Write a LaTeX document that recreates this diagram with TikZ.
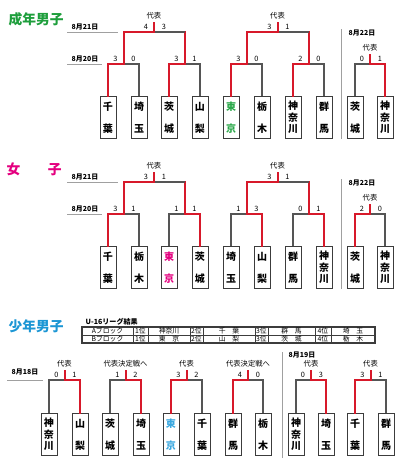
\documentclass[tikz,border=0pt]{standalone}
\usepackage{fontspec}
\setmainfont{Noto Sans CJK JP}
\usetikzlibrary{calc}
\definecolor{brred}{HTML}{D7192A}
\definecolor{brgray}{HTML}{555555}
\definecolor{brlight}{HTML}{A0A0A0}
\definecolor{brbox}{HTML}{3C3C3C}
\definecolor{ttgreen}{HTML}{1E9E3C}
\definecolor{ttpink}{HTML}{E4007F}
\definecolor{ttblue}{HTML}{1C96D4}
\definecolor{tkgreen}{HTML}{2BA84A}
\definecolor{tkblue}{HTML}{3AA8E0}
\tikzset{
  tbox/.style={draw=brbox,line width=0.75pt,fill=white,anchor=north,minimum width=12pt,
    minimum height=31.5pt,inner sep=0pt,align=center,font=\fontsize{7.5}{8.6}\selectfont\bfseries},
  gline/.style={brgray,line width=0.8pt},
  rline/.style={brred,line width=1.5pt,line cap=rect},
  dline/.style={brlight,line width=0.6pt},
  tline/.style={brbox,line width=0.5pt},
  small/.style={font=\fontsize{5.5}{6.5}\selectfont},
  dlab/.style={anchor=west,font=\fontsize{5.2}{6}\selectfont\bfseries},
  ttl/.style={anchor=west,font=\fontsize{10.3}{12}\selectfont\bfseries},
}
\newcommand{\twoch}[2]{#1\\[7.9pt]#2}
\newcommand{\bout}[5]{% winner, loser, junction, bar y, top y
  \path ($(#1)!0.5!(#2)$) coordinate (#3m);
  \coordinate (#3) at (#3m |- 0,#4);
  \coordinate (#3t) at (#3m |- 0,#5);
  \draw[gline] (#2) |- (#3);
  \draw[rline] (#1) |- (#3) -- (#3t);
}
\newcommand{\bscore}[3]{%
  \node[small] (#1l) at ($(#1)+(-8,-5)$) {#2};
  \node[small] (#1r) at ($(#1)+(10,-5)$) {#3};
}
\begin{document}
\begin{tikzpicture}[x=0.75pt,y=-0.75pt]
  \useasboundingbox (0,0) rectangle (400,458);
  % ---------- 成年男子 ----------
  \node[ttl,text=ttgreen] (ma) at (4,19) {成年男子};
  \node[dlab] (mad1) at (67,27) {8月21日};
  \node[dlab] (mad2) at (67,59) {8月20日};
  \node[dlab] (mad3) at (344,33) {8月22日};
  \draw[dline] (67,32) -- (118,32);
  \draw[dline] (67,64) -- (102,64);
  \draw[dline] (341,29) -- (341,139);
  \foreach \i/\xx/\nm/\cl in {1/108/\twoch{千}{葉}/black, 2/139/\twoch{埼}{玉}/black,
      3/169/\twoch{茨}{城}/black, 4/200/\twoch{山}{梨}/black, 5/231/\twoch{東}{京}/tkgreen,
      6/262/\twoch{栃}{木}/black, 7/293/神\\奈\\川/black, 8/324/\twoch{群}{馬}/black,
      9/355/\twoch{茨}{城}/black, 10/385/神\\奈\\川/black}{
    \node[tbox,text=\cl] (ma\i) at (\xx,96) {\nm};}
  \bout{ma1.north}{ma2.north}{maj1}{64}{32}\bscore{maj1}{3}{0}
  \bout{ma3.north}{ma4.north}{maj2}{64}{32}\bscore{maj2}{3}{1}
  \bout{ma5.north}{ma6.north}{maj3}{64}{32}\bscore{maj3}{3}{0}
  \bout{ma7.north}{ma8.north}{maj4}{64}{32}\bscore{maj4}{2}{0}
  \bout{maj1t}{maj2t}{maj5}{32}{23}\bscore{maj5}{4}{3}
  \bout{maj3t}{maj4t}{maj6}{32}{23}\bscore{maj6}{3}{1}
  \bout{ma10.north}{ma9.north}{maj7}{64}{55}\bscore{maj7}{0}{1}
  \node[small] (mal1) at ($(maj5t)+(0,-7)$) {代表};
  \node[small] (mal2) at ($(maj6t)+(0,-7)$) {代表};
  \node[small] (mal3) at ($(maj7t)+(0,-7)$) {代表};
  % ---------- 女子 ----------
  \node[ttl,text=ttpink] (wo) at (2,169) {女　　子};
  \node[dlab] (wod1) at (67,177) {8月21日};
  \node[dlab] (wod2) at (67,209) {8月20日};
  \node[dlab] (wod3) at (344,183) {8月22日};
  \draw[dline] (67,182) -- (118,182);
  \draw[dline] (67,214) -- (102,214);
  \draw[dline] (341,179) -- (341,289);
  \foreach \i/\xx/\nm/\cl in {1/108/\twoch{千}{葉}/black, 2/139/\twoch{栃}{木}/black,
      3/169/\twoch{東}{京}/ttpink, 4/200/\twoch{茨}{城}/black, 5/231/\twoch{埼}{玉}/black,
      6/262/\twoch{山}{梨}/black, 7/293/\twoch{群}{馬}/black, 8/324/神\\奈\\川/black,
      9/355/\twoch{茨}{城}/black, 10/385/神\\奈\\川/black}{
    \node[tbox,text=\cl] (wo\i) at (\xx,246) {\nm};}
  \bout{wo1.north}{wo2.north}{woj1}{214}{182}\bscore{woj1}{3}{1}
  \bout{wo4.north}{wo3.north}{woj2}{214}{182}\bscore{woj2}{1}{1}
  \bout{wo6.north}{wo5.north}{woj3}{214}{182}\bscore{woj3}{1}{3}
  \bout{wo8.north}{wo7.north}{woj4}{214}{182}\bscore{woj4}{0}{1}
  \bout{woj1t}{woj2t}{woj5}{182}{173}\bscore{woj5}{3}{1}
  \bout{woj3t}{woj4t}{woj6}{182}{173}\bscore{woj6}{3}{1}
  \bout{wo9.north}{wo10.north}{woj7}{214}{205}\bscore{woj7}{2}{0}
  \node[small] (wol1) at ($(woj5t)+(0,-7)$) {代表};
  \node[small] (wol2) at ($(woj6t)+(0,-7)$) {代表};
  \node[small] (wol3) at ($(woj7t)+(0,-7)$) {代表};
  % ---------- 少年男子 ----------
  \node[ttl,text=ttblue] (yo) at (4,326) {少年男子};
  % U-16 league table
  \node[anchor=west,font=\fontsize{5.3}{6}\selectfont\bfseries] (ut) at (81,322) {U-16リーグ結果};
  \draw[tline,line width=0.8pt] (82,327) rectangle (375,343);
  \draw[tline] (82,335) -- (375,335);
  \foreach \xx in {133,148,190,203,255,268,315,331}{\draw[tline] (\xx,327) -- (\xx,343);}
  \foreach \k/\cx/\ta/\tb in {1/107.5/Aブロック/Bブロック, 2/140.5/1位/1位, 3/169/神奈川/東　京,
      4/196.5/2位/2位, 5/229/千　葉/山　梨, 6/261.5/3位/3位, 7/291.5/群　馬/茨　城,
      8/323/4位/4位, 9/353/埼　玉/栃　木}{
    \node[font=\fontsize{5.1}{6}\selectfont] (ua\k) at (\cx,331) {\ta};
    \node[font=\fontsize{5.1}{6}\selectfont] (ub\k) at (\cx,339) {\tb};}
  \node[dlab] (yod1) at (7,372) {8月18日};
  \node[dlab] (yod2) at (284,355) {8月19日};
  \draw[dline] (7,380) -- (43,380);
  \draw[dline] (282,352) -- (282,458);
  \foreach \i/\xx/\nm/\cl in {1/49/神\\奈\\川/black, 2/80/\twoch{山}{梨}/black,
      3/110/\twoch{茨}{城}/black, 4/141/\twoch{埼}{玉}/black, 5/171/\twoch{東}{京}/tkblue,
      6/202/\twoch{千}{葉}/black, 7/233/\twoch{群}{馬}/black, 8/263/\twoch{栃}{木}/black,
      9/296/神\\奈\\川/black, 10/326/\twoch{埼}{玉}/black, 11/355/\twoch{千}{葉}/black,
      12/386/\twoch{群}{馬}/black}{
    \node[tbox,text=\cl] (yo\i) at (\xx,413) {\nm};}
  \bout{yo2.north}{yo1.north}{yoj1}{380}{371}\bscore{yoj1}{0}{1}
  \bout{yo4.north}{yo3.north}{yoj2}{380}{371}\bscore{yoj2}{1}{2}
  \bout{yo5.north}{yo6.north}{yoj3}{380}{371}\bscore{yoj3}{3}{2}
  \bout{yo7.north}{yo8.north}{yoj4}{380}{371}\bscore{yoj4}{4}{0}
  \bout{yo10.north}{yo9.north}{yoj5}{380}{371}\bscore{yoj5}{0}{3}
  \bout{yo11.north}{yo12.north}{yoj6}{380}{371}\bscore{yoj6}{3}{1}
  \node[small] (yol1) at ($(yoj1t)+(0,-7)$) {代表};
  \node[small] (yol2) at ($(yoj2t)+(0,-7)$) {代表決定戦へ};
  \node[small] (yol3) at ($(yoj3t)+(0,-7)$) {代表};
  \node[small] (yol4) at ($(yoj4t)+(0,-7)$) {代表決定戦へ};
  \node[small] (yol5) at ($(yoj5t)+(0,-7)$) {代表};
  \node[small] (yol6) at ($(yoj6t)+(0,-7)$) {代表};
\end{tikzpicture}
\end{document}
